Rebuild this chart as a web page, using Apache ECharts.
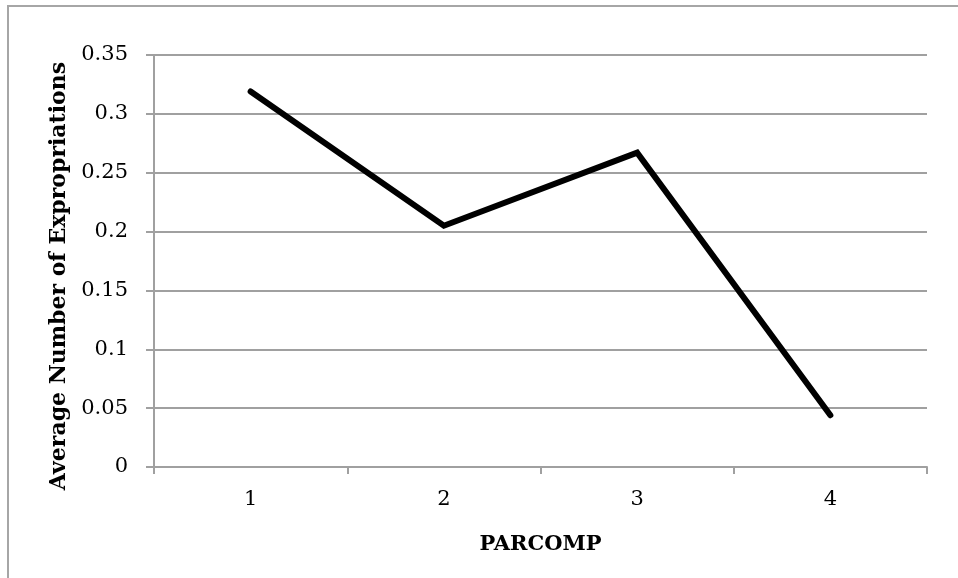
<!DOCTYPE html>
<html>
<head>
<meta charset="utf-8">
<style>
  html, body { margin: 0; padding: 0; background: #fff; }
  #chart { width: 958px; height: 578px; }
</style>
<script src="https://cdn.jsdelivr.net/npm/echarts@6/dist/echarts.min.js"></script>
</head>
<body>
<div id="chart"></div>
<script>
// PARCOMP categories and the average number of expropriations for each
const categories = ['1', '2', '3', '4'];
const avgExpropriations = [0.319, 0.205, 0.267, 0.044];
const yTicks = [0, 0.05, 0.1, 0.15, 0.2, 0.25, 0.3, 0.35];

const FONT = 'DejaVu Serif';
const GRID_COLOR = '#a0a0a0';

const chart = echarts.init(document.getElementById('chart'));
chart.setOption({
  animation: false,
  graphic: [{
    type: 'rect',
    shape: { x: 8, y: 6, width: 1000, height: 700 },
    style: { fill: 'none', stroke: '#a6a6a6', lineWidth: 2 },
    silent: true
  }],
  grid: { left: 154, right: 31, top: 55, bottom: 111, containLabel: false },
  xAxis: {
    type: 'category',
    data: categories,
    boundaryGap: true,
    name: 'PARCOMP',
    nameLocation: 'middle',
    nameGap: 67,
    nameTextStyle: { fontFamily: FONT, fontWeight: 'bold', fontSize: 21, color: '#000' },
    axisLine: { lineStyle: { color: GRID_COLOR, width: 2 } },
    axisTick: { show: true, length: 7, lineStyle: { color: GRID_COLOR, width: 2 }, alignWithLabel: false },
    axisLabel: { fontFamily: FONT, fontSize: 21, color: '#000', margin: 22 },
    splitLine: { show: false }
  },
  yAxis: {
    type: 'value',
    min: 0,
    max: 0.35,
    interval: 0.05,
    name: 'Average Number of Expropriations',
    nameLocation: 'middle',
    nameGap: 82,
    nameTextStyle: {
      fontFamily: FONT, fontWeight: 'bold', fontSize: 22, color: '#000',
      padding: [0, 30, 0, 0]
    },
    axisLine: { show: true, lineStyle: { color: GRID_COLOR, width: 2 } },
    axisTick: { show: true, length: 8, inside: false, lineStyle: { color: GRID_COLOR, width: 2 } },
    axisLabel: {
      fontFamily: FONT, fontSize: 21, color: '#000', margin: 26,
      formatter: v => {
        const t = yTicks.find(k => Math.abs(k - v) < 1e-9);
        return String(t !== undefined ? t : v);
      }
    },
    splitLine: { show: true, lineStyle: { color: GRID_COLOR, width: 2 } }
  },
  series: [{
    type: 'line',
    data: avgExpropriations,
    symbol: 'none',
    lineStyle: { color: '#000', width: 6, cap: 'round', join: 'miter' }
  }]
});
</script>
</body>
</html>
